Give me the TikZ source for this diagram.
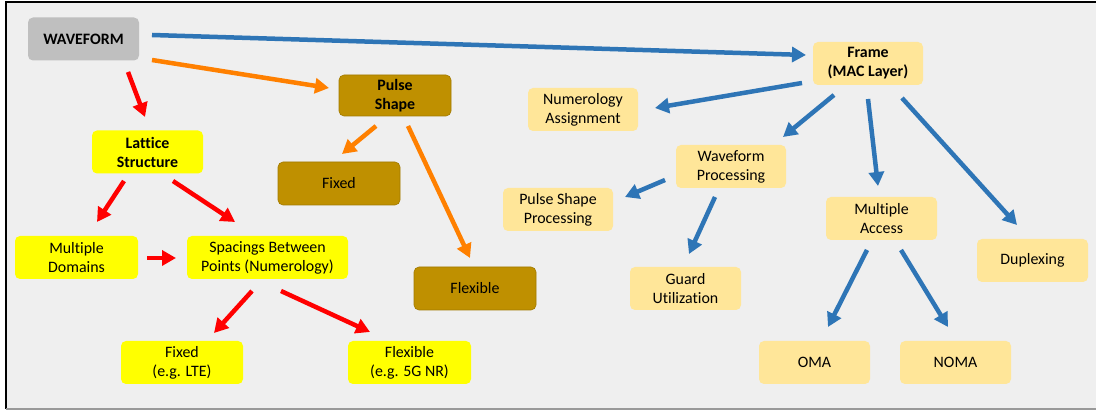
\documentclass[tikz,border=0pt]{standalone}
\usepackage{fontspec}
\setmainfont{Carlito}[Ligatures=NoCommon]
\usetikzlibrary{arrows.meta}
\definecolor{bgpanel}{HTML}{EFEFEF}
\definecolor{boxgray}{HTML}{BFBFBF}
\definecolor{boxgold}{HTML}{BF9000}
\definecolor{boxyellow}{HTML}{FFFF00}
\definecolor{boxpale}{HTML}{FFE699}
\definecolor{arrblue}{HTML}{2E75B6}
\definecolor{arrorange}{HTML}{FF8000}
\definecolor{arrred}{HTML}{FF0000}
\newcommand{\boxfont}{\fontsize{15.9}{19}\selectfont}
\tikzset{
  box/.style={rounded corners=5pt, align=center, inner sep=0pt,
    minimum height=43pt, font=\boxfont},
  boldtext/.style={font=\boxfont\bfseries},
  graybox/.style={box, fill=boxgray, minimum width=111pt},
  goldbox/.style={box, fill=boxgold, draw=boxgold!85!black, line width=0.6pt},
  yellowbox/.style={box, fill=boxyellow},
  palebox/.style={box, fill=boxpale, minimum width=110pt},
  conn/.style={line width=4.5pt, -{Triangle[length=14pt,width=15pt]}},
  redarrow/.style={conn, draw=arrred, fill=arrred},
  orangearrow/.style={conn, draw=arrorange, fill=arrorange},
  bluearrow/.style={conn, draw=arrblue, fill=arrblue},
}
\begin{document}
\begin{tikzpicture}[x=1pt,y=-1pt]
\useasboundingbox (0,0) rectangle (1096,411);
% panel and its frame
\fill[white] (0,0) rectangle (1096,411);
\fill[bgpanel] (6,2) rectangle (1096,409);
\draw[black, line width=1.2pt] (6,409) -- (6,2) -- (1096,2);
\draw[black!40, line width=1.2pt] (6,409) -- (1096,409);

% left tree
\node[graybox, boldtext] (wave) at (83.5,39) {WAVEFORM};
\node[goldbox, boldtext, minimum width=112pt, minimum height=41pt] (pulse) at (395,95.5) {Pulse\\Shape};
\node[yellowbox, boldtext, minimum width=111pt] (lattice) at (147.5,152) {Lattice\\Structure};
\node[goldbox, minimum width=122pt] (pfixed) at (339,183.5) {Fixed};
\node[goldbox, minimum width=122pt] (pflex) at (475,288.5) {Flexible};
\node[yellowbox, minimum width=123pt] (domains) at (76.5,257.5) {Multiple\\Domains};
\node[yellowbox, minimum width=161pt] (spacing) at (267.5,257.5) {Spacings Between\\Points (Numerology)};
\node[yellowbox, minimum width=122pt] (lte) at (182,362.5) {Fixed\\(e.g. LTE)};
\node[yellowbox, minimum width=123pt] (nr) at (409.5,362.5) {Flexible\\(e.g. 5G NR)};

% right tree
\node[palebox, boldtext] (frame) at (868,63.5) {Frame\\(MAC Layer)};
\node[palebox] (numer) at (583,109.5) {Numerology\\Assignment};
\node[palebox] (wproc) at (731,166.5) {Waveform\\Processing};
\node[palebox] (psproc) at (558,209.5) {Pulse Shape\\Processing};
\node[palebox, minimum width=111pt] (access) at (881.5,218.5) {Multiple\\Access};
\node[palebox, minimum width=111pt] (duplex) at (1032.5,260.5) {Duplexing};
\node[palebox, minimum width=111pt] (guard) at (685.5,288.5) {Guard\\Utilization};
\node[palebox, minimum width=111pt] (oma) at (814.5,362.5) {OMA};
\node[palebox, minimum width=111pt] (noma) at (955.5,362.5) {NOMA};

% connectors
\draw[bluearrow] ([shift={(68.5,-4)}]wave.center) -- ([shift={(-62,-8.5)}]frame.center);
\draw[orangearrow] ([shift={(68.5,21)}]wave.center) -- ([shift={(-66,-7.5)}]pulse.center);
\draw[redarrow] ([shift={(44.5,33)}]wave.center) -- ([shift={(-2.5,-35)}]lattice.center);
\draw[redarrow] ([shift={(-23.5,29)}]lattice.center) -- ([shift={(20.5,-35.5)}]domains.center);
\draw[redarrow] ([shift={(25.5,29)}]lattice.center) -- ([shift={(-32.5,-35.5)}]spacing.center);
\draw[redarrow] ([shift={(70.5,0.5)}]domains.center) -- ([shift={(-91.5,0.5)}]spacing.center);
\draw[redarrow] ([shift={(-15.5,33.5)}]spacing.center) -- ([shift={(32,-29.5)}]lte.center);
\draw[redarrow] ([shift={(13.5,33.5)}]spacing.center) -- ([shift={(-39.5,-30.5)}]nr.center);
\draw[orangearrow] ([shift={(-19,30.5)}]pulse.center) -- ([shift={(3,-29.5)}]pfixed.center);
\draw[orangearrow] ([shift={(13,30.5)}]pulse.center) -- ([shift={(-5,-30.5)}]pflex.center);
\draw[bluearrow] ([shift={(-66,19.5)}]frame.center) -- ([shift={(72,-1.5)}]numer.center);
\draw[bluearrow] ([shift={(-34,31.5)}]frame.center) -- ([shift={(52,-29.5)}]wproc.center);
\draw[bluearrow] ([shift={(0,35.5)}]frame.center) -- ([shift={(-3.5,-32.5)}]access.center);
\draw[bluearrow] ([shift={(34,34.5)}]frame.center) -- ([shift={(-15.5,-35.5)}]duplex.center);
\draw[bluearrow] ([shift={(-66,13.5)}]wproc.center) -- ([shift={(67,-12.5)}]psproc.center);
\draw[bluearrow] ([shift={(-16,30.5)}]wproc.center) -- ([shift={(3.5,-34.5)}]guard.center);
\draw[bluearrow] ([shift={(-14.5,31.5)}]access.center) -- ([shift={(13.5,-35.5)}]oma.center);
\draw[bluearrow] ([shift={(19.5,31.5)}]access.center) -- ([shift={(-7.5,-35.5)}]noma.center);
\end{tikzpicture}
\end{document}
